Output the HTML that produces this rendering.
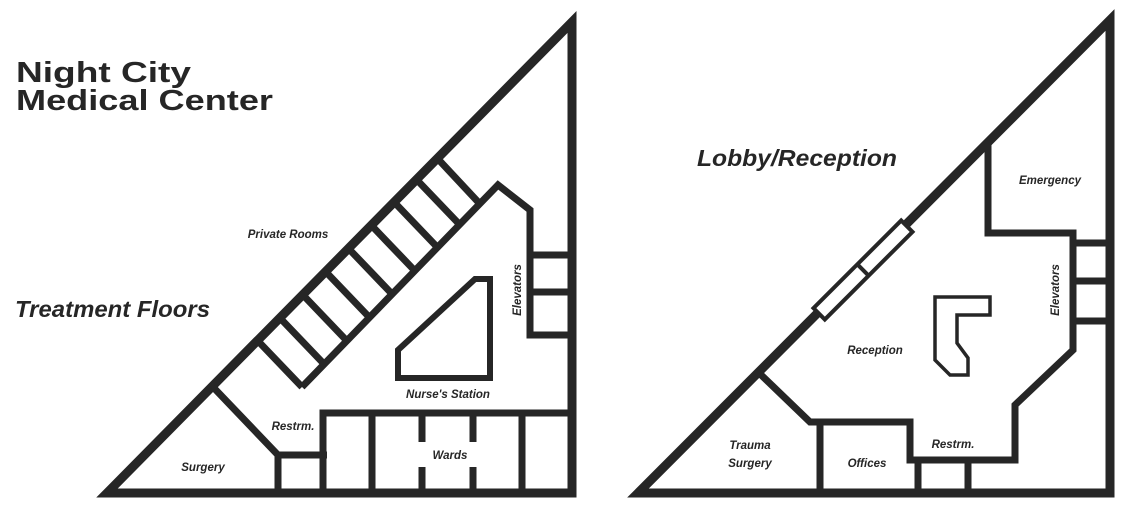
<!DOCTYPE html>
<html><head><style>html,body{margin:0;padding:0;background:#fff}svg{display:block}</style></head><body>
<svg width="1132" height="517" viewBox="0 0 1132 517" xmlns="http://www.w3.org/2000/svg">
<g fill="none" stroke="#262626" stroke-linejoin="miter">
<!-- LEFT -->
<polygon points="107,493 572,22 572,493" stroke-width="9"/>
<g stroke-width="7">
<polyline points="302,387 498,185 530,210 530,335 572,335"/>
<line x1="530" y1="255" x2="572" y2="255"/>
<line x1="530" y1="292" x2="572" y2="292"/>
<line x1="258" y1="341" x2="302" y2="387"/>
<line x1="280" y1="318" x2="324" y2="364"/>
<line x1="303" y1="295" x2="347" y2="341"/>
<line x1="326" y1="272" x2="370" y2="318"/>
<line x1="349" y1="249" x2="393" y2="295"/>
<line x1="372" y1="226" x2="416" y2="272"/>
<line x1="395" y1="203" x2="439" y2="249"/>
<line x1="417" y1="180" x2="461" y2="226"/>
<line x1="438" y1="159" x2="480" y2="204"/>
<polyline points="213,387 278,455 327,455"/>
<line x1="278" y1="455" x2="278" y2="493"/>
<polyline points="323,493 323,413 572,413"/>
<line x1="372" y1="413" x2="372" y2="493"/>
<line x1="522" y1="413" x2="522" y2="493"/>
<line x1="422" y1="413" x2="422" y2="442"/>
<line x1="422" y1="467" x2="422" y2="493"/>
<line x1="473" y1="413" x2="473" y2="442"/>
<line x1="473" y1="467" x2="473" y2="493"/>
</g>
<polygon points="398,350 475,279 490,279 490,378 398,378" stroke-width="6"/>
<!-- RIGHT -->
<polygon points="638,493 1110,20 1110,493" stroke-width="9"/>
<g stroke-width="7">
<polyline points="988,142 988,233 1073,233 1073,350 1015,405 1015,460 910,460 910,422 820,422 820,493"/>
<polyline points="757,371 810,422 822,422"/>
<line x1="918" y1="460" x2="918" y2="493"/>
<line x1="968" y1="460" x2="968" y2="493"/>
<line x1="1073" y1="243" x2="1110" y2="243"/>
<line x1="1073" y1="281" x2="1110" y2="281"/>
<line x1="1073" y1="321" x2="1110" y2="321"/>
</g>
<g transform="translate(863,270) rotate(-45)">
<rect x="-62" y="-8" width="124" height="16" fill="#fff" stroke-width="4"/>
<line x1="0" y1="-8" x2="0" y2="8" stroke-width="4"/>
</g>
<polygon points="935,297 990,297 990,315 957,315 957,343 968,358 968,375 950,375 935,360" stroke-width="3.5"/>
</g>
<g fill="#262626" font-family="Liberation Sans, sans-serif" font-weight="bold">
<text x="16" y="82" font-size="29" textLength="175" lengthAdjust="spacingAndGlyphs">Night City</text>
<text x="16" y="110" font-size="29" textLength="257" lengthAdjust="spacingAndGlyphs">Medical Center</text>
<g font-style="italic">
<text x="15" y="317" font-size="23" textLength="195" lengthAdjust="spacingAndGlyphs">Treatment Floors</text>
<text x="697" y="166" font-size="23" textLength="200" lengthAdjust="spacingAndGlyphs">Lobby/Reception</text>
<g font-size="11.5" text-anchor="middle">
<text x="288" y="238">Private Rooms</text>
<text x="448" y="398">Nurse's Station</text>
<text x="293" y="430">Restrm.</text>
<text x="203" y="471">Surgery</text>
<text x="450" y="459">Wards</text>
<text x="0" y="0" transform="translate(521,290) rotate(-90)">Elevators</text>
<text x="1050" y="184">Emergency</text>
<text x="0" y="0" transform="translate(1059,290) rotate(-90)">Elevators</text>
<text x="875" y="354">Reception</text>
<text x="750" y="449">Trauma</text>
<text x="750" y="467">Surgery</text>
<text x="867" y="467">Offices</text>
<text x="953" y="448">Restrm.</text>
</g>
</g>
</g>
</svg>
</body></html>
